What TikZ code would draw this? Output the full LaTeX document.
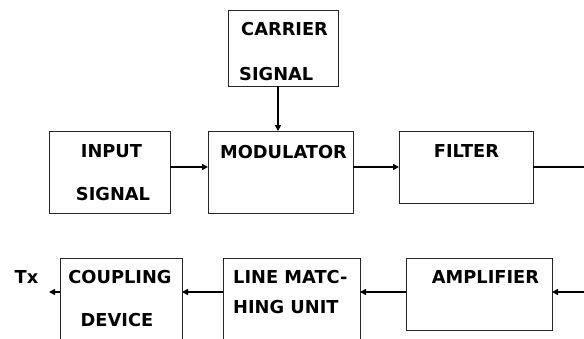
\documentclass[tikz,border=0pt]{standalone}
\usepackage{fontspec}
\setmainfont{DejaVu Sans}
\usetikzlibrary{arrows.meta}
\begin{document}
\begin{tikzpicture}[x=1pt,y=-1pt,
  blk/.style={draw=black!85, line width=1pt, inner sep=0pt, outer sep=0pt},
  lbl/.style={font=\bfseries\fontsize{17.8}{19}\selectfont, inner sep=0pt, anchor=base},
  lbw/.style={lbl, anchor=base west},
  conn/.style={line width=1.6pt, -{Triangle[length=6pt,width=6pt]}},
  plain/.style={line width=1.5pt},
]
\useasboundingbox (0,0) rectangle (584,338);
% boxes
\node[blk, minimum width=110pt, minimum height=76pt] (car) at (283,48) {};
\node[blk, minimum width=121pt, minimum height=82pt] (inp) at (109.5,172) {};
\node[blk, minimum width=145pt, minimum height=82pt] (mod) at (280.5,172) {};
\node[blk, minimum width=134pt, minimum height=72pt] (filt) at (466,167) {};
\node[blk, minimum width=146pt, minimum height=72pt] (amp) at (479,294) {};
\begin{scope}
\clip (0,0) rectangle (584,338);
\node[blk, minimum width=122pt, minimum height=100pt] (coup) at (121,308) {};
\node[blk, minimum width=137pt, minimum height=100pt] (lm) at (291.5,308) {};
\end{scope}
% labels
\node[lbw] (t1) at (241,35) {CARRIER};
\node[lbw] (t2) at (239,80) {SIGNAL};
\node[lbl] (t3) at (111.5,157) {INPUT};
\node[lbl] (t4) at (113,200) {SIGNAL};
\node[lbl] (t5) at (283.5,158) {MODULATOR};
\node[lbl] (t6) at (466.5,157) {FILTER};
\node[lbl] (t7) at (26.5,283) {Tx};
\node[lbl] (t8) at (120,283) {COUPLING};
\node[lbl] (t9) at (117,326) {DEVICE};
\node[lbw] (t10) at (233,283) {LINE MATC-};
\node[lbw] (t11) at (233,313) {HING UNIT};
\node[lbl] (t12) at (485.5,283) {AMPLIFIER};
% free ends
\coordinate (outR) at (584,167);
\coordinate (inR) at (584,292);
\coordinate (tx) at (49,292);
% connectors
\draw[conn] ([xshift=-5pt]car.south) -- ([xshift=-5pt]car.south |- mod.north);
\draw[conn] ([yshift=5pt]inp.east) -- ([yshift=5pt]mod.west);
\draw[conn] ([yshift=5pt]mod.east) -- (filt.west);
\draw[plain] (filt.east) -- (outR);
\draw[conn] (inR) -- (inR -| amp.east);
\draw[conn] (inR -| amp.west) -- (inR -| lm.east);
\draw[conn] (inR -| lm.west) -- (inR -| coup.east);
\draw[conn] (inR -| coup.west) -- (tx);
\end{tikzpicture}
\end{document}
